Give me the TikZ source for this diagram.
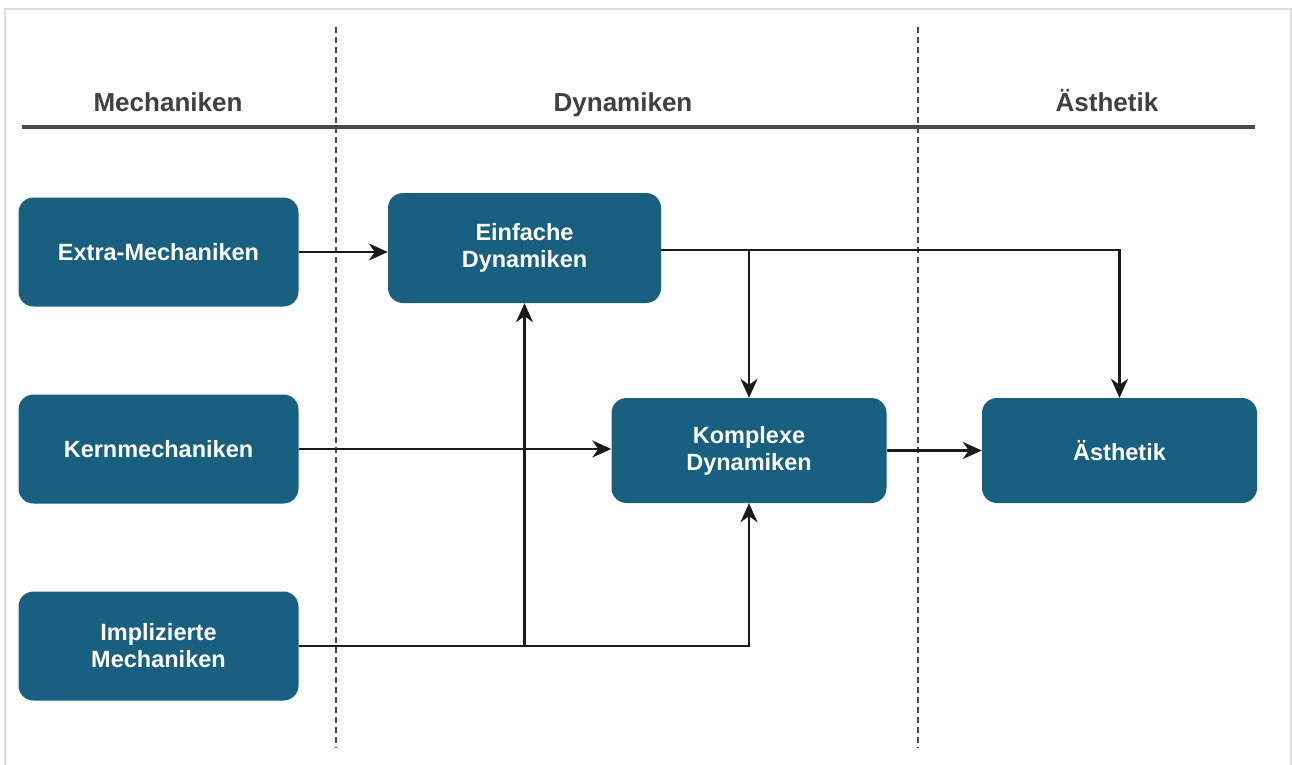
\documentclass[tikz,border=0pt]{standalone}
\usepackage{fontspec}
\setmainfont{Liberation Sans}
\usetikzlibrary{arrows.meta}
\definecolor{boxblue}{HTML}{185F80}
\definecolor{headgray}{HTML}{404040}
\definecolor{rulegray}{HTML}{4A4A4A}
\definecolor{framegray}{HTML}{DDDDDD}
\definecolor{linedark}{HTML}{1A1A1A}
\tikzset{
  box/.style={rectangle, rounded corners=15pt, fill=boxblue, draw=none, inner sep=0pt,
    align=center, text=white, font=\fontsize{23.5}{27}\selectfont\bfseries},
  head/.style={text=headgray, font=\fontsize{26}{30}\selectfont\bfseries, inner sep=0pt, anchor=base},
  conn/.style={draw=linedark, line width=2.5pt, -{Stealth[length=19pt,width=17pt,inset=6pt]}},
  divider/.style={draw=rulegray, line width=2.2pt, dash pattern=on 6pt off 4pt},
}
\begin{document}
\begin{tikzpicture}[x=1pt,y=-1pt]
\useasboundingbox (0,0) rectangle (1292,765);
\fill[white] (0,0) rectangle (1292,765);
\draw[framegray, line width=1.5pt] (5,765) -- (5,9) -- (1291,9) -- (1291,765);

% headers
\node[head] (hm) at (168,112) {Mechaniken};
\node[head] (hd) at (623,112) {Dynamiken};
\node[head] (ha) at (1107,112) {Ästhetik};
\draw[rulegray, line width=3.5pt] (22,127) -- (1255,127);

% dividers
\draw[divider] (336,27) -- (336,748);
\draw[divider] (918,27) -- (918,748);

% boxes
\node[box, minimum width=280pt, minimum height=109pt] (extra) at (158.5,252) {Extra-Mechaniken};
\node[box, minimum width=280pt, minimum height=109pt] (kern) at (158.5,449) {Kernmechaniken};
\node[box, minimum width=280pt, minimum height=109pt] (impl) at (158.5,646) {Implizierte\\Mechaniken};
\node[box, minimum width=273pt, minimum height=110pt] (einf) at (524.5,248) {Einfache\\Dynamiken};
\node[box, minimum width=275pt, minimum height=105pt] (komp) at (749,450.5) {Komplexe\\Dynamiken};
\node[box, minimum width=275pt, minimum height=105pt] (aest) at (1119.5,450.5) {Ästhetik};

% connectors
\coordinate (eout) at ([yshift=-2pt]einf.east);
\coordinate (jimp) at (impl.east -| einf.south);
\coordinate (jein) at (eout -| komp.north);
\draw[conn] (extra) -- (extra -| einf.west);
\draw[conn] (kern) -- (kern -| komp.west);
\draw[conn] (impl.east) -- (impl.east -| komp.south) -- (komp.south);
\draw[conn] (jimp) -- (einf.south);
\draw[conn] (eout) -- (eout -| aest.north) -- (aest.north);
\draw[conn] (jein) -- (komp.north);
\draw[conn] (komp.east) -- (aest.west);
\end{tikzpicture}
\end{document}
